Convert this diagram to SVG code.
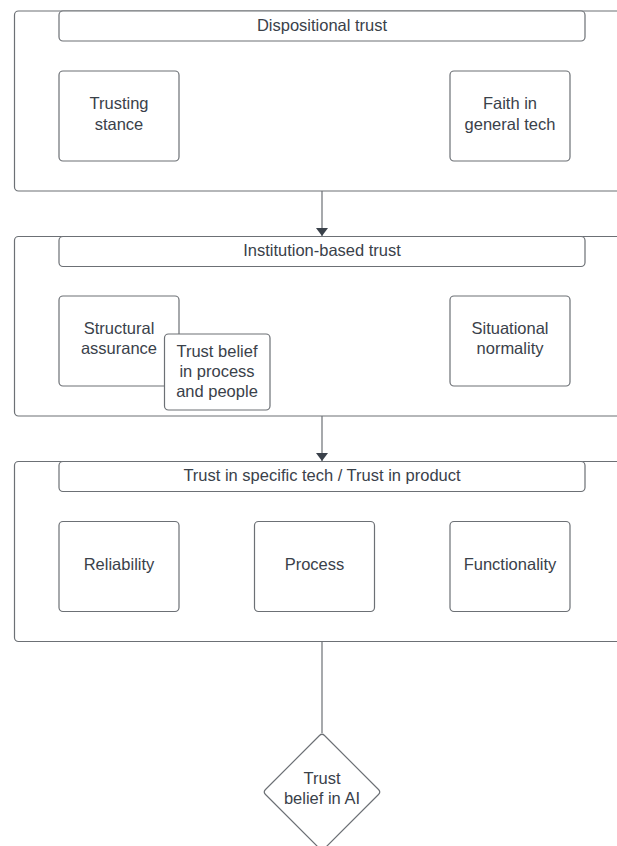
<svg xmlns="http://www.w3.org/2000/svg" width="617" height="846" viewBox="0 0 617 846">
<defs>
<style>
.c{fill:#ffffff;stroke:#6c7075;stroke-width:1.2}
.t{font-family:"Liberation Sans",Arial,sans-serif;font-size:16.5px;fill:#3a414a;text-anchor:middle}
.l{fill:none;stroke:#6c7075;stroke-width:1.2}
</style>
<marker id="ah" viewBox="0 0 8 12" refX="8" refY="6" markerWidth="8" markerHeight="12" markerUnits="userSpaceOnUse" orient="auto">
<path d="M0,0 L8,6 L0,12 Z" fill="#3a414a"/>
</marker>
</defs>
<rect width="617" height="846" fill="#ffffff"/>

<g id="container-dispositional">
<rect class="c" x="14.5" y="11" width="640" height="180" rx="4"/>
</g>
<g id="header-dispositional">
<rect class="c" x="59" y="11" width="526" height="30" rx="4"/>
<text class="t" x="322" y="31">Dispositional trust</text>
</g>
<g id="trusting-stance">
<rect class="c" x="59" y="71" width="120" height="90" rx="4"/>
<text class="t" x="119" y="109">Trusting</text>
<text class="t" x="119" y="130">stance</text>
</g>
<g id="faith-general-tech">
<rect class="c" x="450" y="71" width="120" height="90" rx="4"/>
<text class="t" x="510" y="109">Faith in</text>
<text class="t" x="510" y="130">general tech</text>
</g>

<g id="container-institution">
<rect class="c" x="14.5" y="236.5" width="640" height="179.5" rx="4"/>
</g>
<g id="header-institution">
<rect class="c" x="59" y="236.5" width="526" height="30" rx="4"/>
<text class="t" x="322" y="256">Institution-based trust</text>
</g>
<g id="structural-assurance">
<rect class="c" x="59" y="296" width="120" height="90" rx="4"/>
<text class="t" x="119" y="334">Structural</text>
<text class="t" x="119" y="354">assurance</text>
</g>
<g id="situational-normality">
<rect class="c" x="450" y="296" width="120" height="90" rx="4"/>
<text class="t" x="510" y="334">Situational</text>
<text class="t" x="510" y="354">normality</text>
</g>
<g id="trust-belief-process">
<rect class="c" x="164.5" y="334" width="105.5" height="76" rx="4"/>
<text class="t" x="217" y="357">Trust belief</text>
<text class="t" x="217" y="377">in process</text>
<text class="t" x="217" y="397">and people</text>
</g>

<g id="container-specific">
<rect class="c" x="14.5" y="461.5" width="640" height="180" rx="4"/>
</g>
<g id="header-specific">
<rect class="c" x="59" y="461.5" width="526" height="30" rx="4"/>
<text class="t" x="322" y="481">Trust in specific tech / Trust in product</text>
</g>
<g id="reliability">
<rect class="c" x="59" y="521.5" width="120" height="90" rx="4"/>
<text class="t" x="119" y="570">Reliability</text>
</g>
<g id="process">
<rect class="c" x="254.5" y="521.5" width="120" height="90" rx="4"/>
<text class="t" x="314.5" y="570">Process</text>
</g>
<g id="functionality">
<rect class="c" x="450" y="521.5" width="120" height="90" rx="4"/>
<text class="t" x="510" y="570">Functionality</text>
</g>

<g id="trust-belief-ai">
<path class="c" d="M319.5,735.5 Q322,733 324.5,735.5 L378.5,789.5 Q381,792 378.5,794.5 L324.5,848.5 Q322,851 319.5,848.5 L265.5,794.5 Q263,792 265.5,789.5 Z"/>
<text class="t" x="322" y="784">Trust</text>
<text class="t" x="322" y="804">belief in AI</text>
</g>

<g id="connectors">
<line class="l" x1="322" y1="191" x2="322" y2="236" marker-end="url(#ah)"/>
<line class="l" x1="322" y1="416" x2="322" y2="461" marker-end="url(#ah)"/>
<line class="l" x1="322" y1="641.5" x2="322" y2="733"/>
</g>
</svg>
